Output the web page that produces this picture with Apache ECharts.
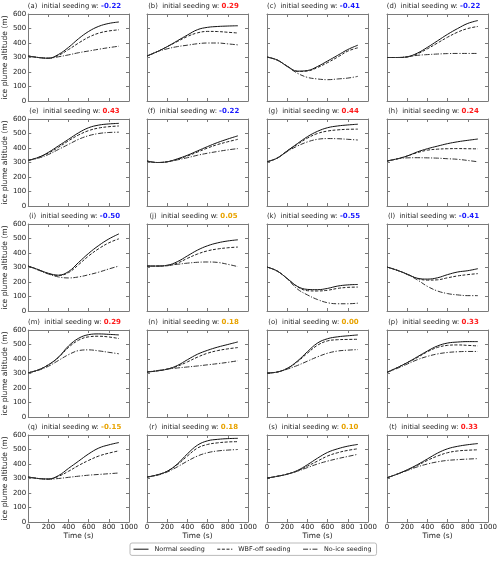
<!DOCTYPE html>
<html><head><meta charset="utf-8">
<script src="https://cdn.jsdelivr.net/npm/echarts@6/dist/echarts.min.js"></script>
<style>html,body{margin:0;padding:0;background:#fff}#c{width:500px;height:563px}</style>
</head><body><div id="c"></div>
<script>
const panelLetters = ['a','b','c','d','e','f','g','h','i','j','k','l','m','n','o','p','q','r','s','t'];
const seedW = ['-0.22','0.29','-0.41','-0.22','0.43','-0.22','0.44','0.24','-0.50','0.05','-0.55','-0.41','0.29','0.18','0.00','0.33','-0.15','0.18','0.10','0.33'];
const times = [0,100,200,300,400,500,600,700,800,900];
const xTicks = [0,200,400,600,800,1000];
const yTicks = [0,100,200,300,400,500,600];
const seriesNames = ['Normal seeding','WBF-off seeding','No-ice seeding'];

const normalSeeding = [
  [310,300,295,321,370,430,480,515,535,545],
  [310,340,375,415,455,492,508,514,517,519],
  [303,283,240,206,210,238,276,315,355,385],
  [300,300,305,330,370,415,460,500,535,555],
  [315,335,370,415,460,505,540,558,566,570],
  [310,300,305,325,350,380,410,438,462,484],
  [305,330,380,430,478,515,540,552,559,564],
  [310,325,345,373,395,413,430,443,453,462],
  [310,285,260,247,272,335,398,452,497,532],
  [310,310,315,340,380,420,450,470,483,491],
  [303,276,224,170,149,147,156,172,180,183],
  [303,281,254,226,220,229,251,269,278,292],
  [305,325,360,413,490,543,568,573,570,566],
  [310,318,330,355,395,433,460,482,500,518],
  [303,310,335,385,450,510,540,553,560,566],
  [308,340,375,415,455,490,510,517,520,520],
  [310,300,297,320,370,420,470,510,532,548],
  [310,325,350,400,470,530,560,570,575,577],
  [303,315,330,355,395,440,480,505,523,535],
  [305,330,360,395,435,475,505,522,533,541]
];
const wbfOffSeeding = [
  [310,300,295,315,355,400,440,468,483,491],
  [310,340,375,410,445,470,480,479,474,469],
  [303,283,240,204,207,231,265,303,344,367],
  [300,300,303,325,360,400,440,475,500,514],
  [315,335,365,405,450,490,520,538,547,552],
  [310,300,305,322,345,372,400,424,443,460],
  [305,330,380,425,468,500,517,525,529,530],
  [310,325,345,368,385,392,395,396,395,394],
  [310,285,257,245,265,320,380,430,470,498],
  [310,310,312,330,363,393,415,428,436,441],
  [303,276,224,168,140,138,143,156,163,165],
  [303,281,254,224,213,215,229,242,251,258],
  [305,325,360,410,480,530,553,557,552,541],
  [310,318,330,350,380,413,440,458,470,479],
  [303,310,335,380,440,495,525,533,535,536],
  [308,340,375,410,450,480,494,497,494,490],
  [310,300,295,315,350,390,425,455,475,491],
  [310,325,350,395,455,510,535,546,552,554],
  [303,315,330,352,385,420,455,478,494,505],
  [305,330,358,390,425,455,478,490,495,498]
];
const noIceSeeding = [
  [310,300,295,305,318,333,345,357,368,378],
  [310,340,360,375,385,395,400,400,394,387],
  [303,283,238,192,163,152,147,152,158,170],
  [300,300,305,315,320,324,327,328,328,328],
  [315,330,355,390,425,460,485,500,507,509],
  [310,300,305,318,333,350,364,376,387,396],
  [305,330,375,413,442,460,465,464,460,455],
  [310,325,332,333,332,330,326,322,314,305],
  [310,282,255,235,228,235,250,268,290,310],
  [310,310,315,322,330,336,338,335,322,306],
  [303,276,222,152,111,79,57,50,50,54],
  [303,281,252,215,170,138,120,111,106,106],
  [305,322,350,390,430,458,463,456,446,436],
  [310,320,330,338,345,352,360,368,377,388],
  [303,310,330,355,385,415,440,455,461,465],
  [308,335,365,395,418,435,445,450,452,452],
  [310,300,295,300,308,316,323,328,333,338],
  [310,322,345,380,420,455,478,490,496,500],
  [303,315,330,350,375,400,420,437,452,467],
  [305,330,355,380,400,415,425,430,434,437]
];

const colLeft = [28, 147, 267, 387];
const rowTop = [14, 119, 224, 330, 435];
const PW = 101, PH = 87;
const FONT = 'DejaVu Sans';
const axisColor = '#7a7a7a';
const textColor = '#222';

function wColor(s){
  const v = parseFloat(s);
  if (Math.abs(v) < 0.2) return '#e8a300';
  return v < 0 ? '#1a1aff' : '#ff1a1a';
}

const grids = [], xAxes = [], yAxes = [], series = [], titles = [];
const lineStyles = [
  {type:'solid', width:1, color:'#111'},
  {type:[3,1.6], width:1, color:'#222'},
  {type:[5,1.6,1.2,1.6], width:1, color:'#333'}
];
const datasets = [normalSeeding, wbfOffSeeding, noIceSeeding];

for (let i = 0; i < 20; i++) {
  const r = Math.floor(i/4), c = i%4;
  grids.push({left: colLeft[c], top: rowTop[r], width: PW, height: PH, show:false});
  const bottomRow = r === 4, leftCol = c === 0;
  const baseX = {
    type:'value', min:0, max:1000, interval:200, gridIndex:i,
    axisLine:{show:true, onZero:false, lineStyle:{color:axisColor, width:1}},
    axisTick:{show:true, inside:true, length:3, lineStyle:{color:axisColor}},
    splitLine:{show:false}
  };
  xAxes.push(Object.assign({}, baseX, {
    position:'bottom',
    axisLabel:{show:bottomRow, fontSize:7, color:textColor, fontFamily:FONT, margin:2,
      showMinLabel:true, showMaxLabel:true, hideOverlap:false, formatter: v => String(v)},
    name: bottomRow ? 'Time (s)' : '', nameLocation:'middle', nameGap:11,
    nameTextStyle:{fontSize:7.4, color:textColor, fontFamily:FONT}
  }));
  xAxes.push(Object.assign({}, baseX, {position:'top', axisLabel:{show:false}}));
  const baseY = {
    type:'value', min:0, max:600, interval:100, gridIndex:i,
    axisLine:{show:true, onZero:false, lineStyle:{color:axisColor, width:1}},
    axisTick:{show:true, inside:true, length:3, lineStyle:{color:axisColor}},
    splitLine:{show:false}
  };
  yAxes.push(Object.assign({}, baseY, {
    position:'left',
    axisLabel:{show:leftCol, fontSize:7, color:textColor, fontFamily:FONT, margin:2, formatter: v => String(v)},
    name: leftCol ? 'ice plume altitude (m)' : '', nameLocation:'middle', nameGap:18, nameRotate:90,
    nameTextStyle:{fontSize:7.6, color:textColor, fontFamily:FONT}
  }));
  yAxes.push(Object.assign({}, baseY, {position:'right', axisLabel:{show:false}}));

  titles.push({
    text: '(' + panelLetters[i] + ')  initial seeding w: {v|' + seedW[i] + '}',
    left: colLeft[c] + PW/2 - 4, top: rowTop[r] - 11, textAlign:'center',
    padding:0,
    textStyle:{fontSize:6.8, fontWeight:'normal', color:textColor, fontFamily:FONT,
      rich:{v:{fontSize:7, fontWeight:'bold', color:wColor(seedW[i]), fontFamily:FONT}}}
  });

  for (let k = 0; k < 3; k++) {
    series.push({
      name: seriesNames[k], type:'line', xAxisIndex: 2*i, yAxisIndex: 2*i,
      data: times.map((t, j) => [t, datasets[k][i][j]]),
      smooth: 0.4, showSymbol:false, symbol:'none', silent:true, animation:false,
      lineStyle: lineStyles[k], itemStyle:{color: lineStyles[k].color}
    });
  }
}

const chart = echarts.init(document.getElementById('c'), null, {renderer:'canvas'});
chart.setOption({
  animation:false,
  backgroundColor:'#fff',
  title: titles,
  grid: grids,
  xAxis: xAxes,
  yAxis: yAxes,
  legend: {
    data: seriesNames, left:130, top:543, orient:'horizontal',
    itemWidth:15, itemHeight:8, itemGap:12,
    itemStyle:{opacity:0, borderWidth:0},
    lineStyle:{width:1},
    borderColor:'#bbb', borderWidth:1, borderRadius:2, padding:[3,5,3,3],
    textStyle:{fontSize:6.4, color:textColor, fontFamily:FONT, padding:[0,0,0,1]}
  },
  series: series
});
</script></body></html>
